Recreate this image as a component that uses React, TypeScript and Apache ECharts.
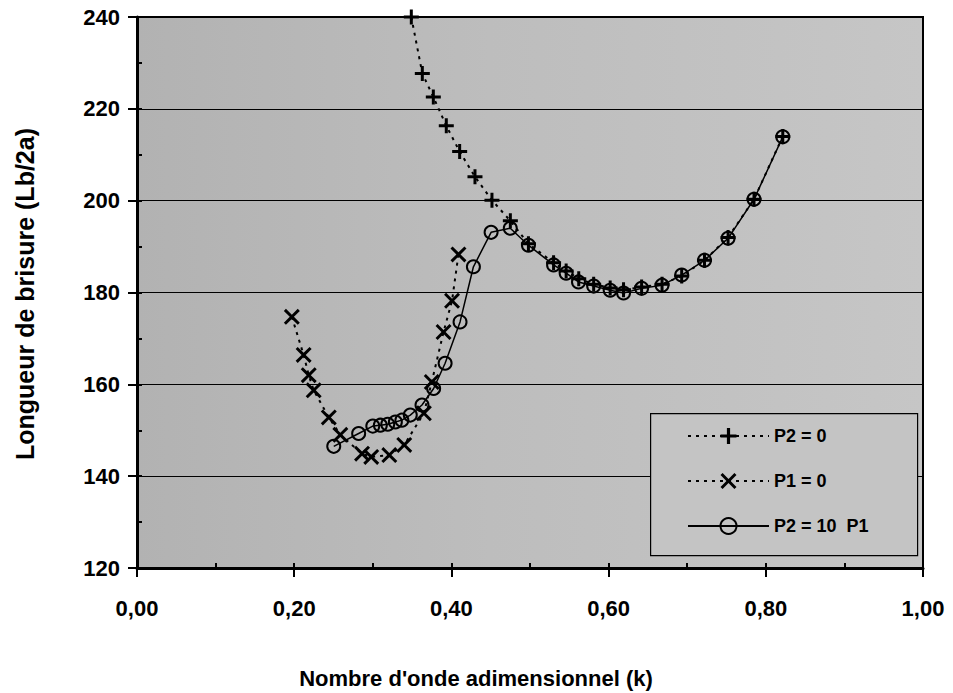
import React, { useEffect, useRef } from "react";
import * as echarts from "echarts";

// P2 = 0  (+ markers, dotted line)
const p2zeroK = [0.349, 0.363, 0.377, 0.3935, 0.4105, 0.43, 0.4516, 0.475, 0.498, 0.53, 0.546, 0.562, 0.581, 0.602, 0.619, 0.642, 0.668, 0.693, 0.722, 0.752, 0.785, 0.8216];
const p2zeroL = [240, 227.7, 222.6, 216.3, 210.7, 205.2, 200.1, 195.6, 190.6, 186.5, 184.7, 183.0, 181.8, 181.0, 180.6, 181.2, 181.8, 183.6, 187.0, 192.0, 200.3, 214.0];

// P1 = 0  (x markers, dotted line)
const p1zeroK = [0.197, 0.212, 0.2185, 0.2248, 0.244, 0.2587, 0.2863, 0.298, 0.321, 0.34, 0.365, 0.375, 0.39, 0.4008, 0.409];
const p1zeroL = [174.7, 166.4, 162.0, 158.7, 152.8, 149.0, 144.9, 144.2, 144.6, 146.8, 153.7, 160.5, 171.4, 178.2, 188.3];

// P2 = 10 P1  (circles, solid line)
const p2tenK = [0.2503, 0.282, 0.3, 0.3096, 0.319, 0.3287, 0.337, 0.3477, 0.3626, 0.3774, 0.392, 0.411, 0.428, 0.4505, 0.4749, 0.498, 0.53, 0.546, 0.5617, 0.581, 0.602, 0.619, 0.642, 0.668, 0.693, 0.722, 0.752, 0.785, 0.8216];
const p2tenL = [146.5, 149.3, 150.9, 151.1, 151.3, 151.8, 152.2, 153.3, 155.5, 159.1, 164.6, 173.6, 185.6, 193.1, 194.0, 190.3, 186.0, 184.2, 182.3, 181.4, 180.5, 179.9, 180.9, 181.6, 183.8, 187.0, 191.8, 200.3, 213.9];

const seriesNames = ["P2 = 0", "P1 = 0", "P2 = 10  P1"];
const xTitle = "Nombre d'onde adimensionnel (k)";
const yTitle = "Longueur de brisure (Lb/2a)";

const FONT = "'Liberation Sans', Arial, Helvetica, sans-serif";
const PLUS = "path://M4,0H6V4H10V6H6V10H4V6H0V4H4Z";
const CROSS = "path://M0,1.3L1.3,0L5,3.7L8.7,0L10,1.3L6.3,5L10,8.7L8.7,10L5,6.3L1.3,10L0,8.7L3.7,5Z";

const zip = (a: number[], b: number[]) => a.map((v, i) => [v, b[i]]);

export default function App() {
  const ref = useRef<HTMLDivElement>(null);
  useEffect(() => {
    if (!ref.current) return;
    const chart = echarts.init(ref.current, null, { renderer: "svg" });
    const grid = { left: 137, right: 30, top: 17, bottom: 125 };
    chart.setOption({
      animation: false,
      backgroundColor: "#ffffff",
      grid: {
        ...grid,
        show: true,
        backgroundColor: {
          type: "linear", x: 0, y: 0, x2: 1, y2: 0,
          colorStops: [
            { offset: 0, color: "#b2b2b2" },
            { offset: 0.45, color: "#bdbdbd" },
            { offset: 1, color: "#c6c6c6" },
          ],
        },
        borderColor: "#000",
        borderWidth: 2,
      },
      xAxis: [
        {
          type: "value", min: 0, max: 1, interval: 0.2,
          axisLine: { show: true, lineStyle: { color: "#000", width: 3 } },
          axisTick: { show: true, inside: false, length: 9, lineStyle: { color: "#000", width: 2 } },
          axisLabel: {
            margin: 29, color: "#000", fontFamily: FONT, fontWeight: "bold", fontSize: 22,
            formatter: (v: number) => v.toFixed(2).replace(".", ","),
          },
          splitLine: { show: false },
        },
        {
          type: "value", min: 0, max: 1, interval: 0.1, position: "bottom",
          axisLine: { show: false },
          axisTick: { show: true, inside: true, length: 5, lineStyle: { color: "#000", width: 2 } },
          axisLabel: { show: false },
          splitLine: { show: false },
        },
      ],
      yAxis: [
        {
          type: "value", min: 120, max: 240, interval: 20,
          axisLine: { show: true, lineStyle: { color: "#000", width: 3 } },
          axisTick: { show: true, inside: false, length: 9, lineStyle: { color: "#000", width: 2 } },
          axisLabel: { margin: 17, color: "#000", fontFamily: FONT, fontWeight: "bold", fontSize: 22 },
          splitLine: { show: true, lineStyle: { color: "#000", width: 1.2 } },
        },
        {
          type: "value", min: 120, max: 240, interval: 10, position: "left",
          axisLine: { show: false },
          axisTick: { show: true, inside: true, length: 5, lineStyle: { color: "#000", width: 2 } },
          axisLabel: { show: false },
          splitLine: { show: false },
        },
      ],
      legend: {
        orient: "vertical",
        left: 687,
        top: 427,
        padding: 0,
        itemWidth: 81,
        itemHeight: 20,
        itemGap: 27,
        selectedMode: false,
        data: seriesNames,
        textStyle: { color: "#000", fontFamily: FONT, fontWeight: "bold", fontSize: 18 },
        z: 10,
      },
      graphic: [
        {
          type: "rect", left: 650, top: 413, z: 5,
          shape: { width: 267, height: 142 },
          style: { fill: "#c4c4c4", stroke: "#000", lineWidth: 1.2 },
        },
        {
          type: "text", x: 476, y: 678, z: 10,
          style: {
            text: xTitle, fill: "#000", font: `bold 22px ${FONT}`,
            textAlign: "center", textVerticalAlign: "middle",
          },
        },
        {
          type: "text", x: 25, y: 294, rotation: Math.PI / 2, z: 10,
          style: {
            text: yTitle, fill: "#000", font: `bold 25px ${FONT}`,
            textAlign: "center", textVerticalAlign: "middle",
          },
        },
      ],
      series: [
        {
          name: seriesNames[0], type: "line", data: zip(p2zeroK, p2zeroL),
          symbol: PLUS, symbolSize: 15,
          itemStyle: { color: "#000" },
          lineStyle: { color: "#000", width: 2, type: [3, 5] },
          z: 3,
        },
        {
          name: seriesNames[1], type: "line", data: zip(p1zeroK, p1zeroL),
          symbol: CROSS, symbolSize: 16,
          itemStyle: { color: "#000" },
          lineStyle: { color: "#000", width: 2, type: [3, 5] },
          z: 3,
        },
        {
          name: seriesNames[2], type: "line", data: zip(p2tenK, p2tenL),
          symbol: "circle", symbolSize: 13,
          itemStyle: { color: "rgba(0,0,0,0)", borderColor: "#000", borderWidth: 2 },
          lineStyle: { color: "#000", width: 1.5 },
          z: 4,
        },
      ],
    });
    return () => chart.dispose();
  }, []);
  return <div ref={ref} style={{ width: 953, height: 693, position: "absolute", left: 0, top: 0 }} />;
}
